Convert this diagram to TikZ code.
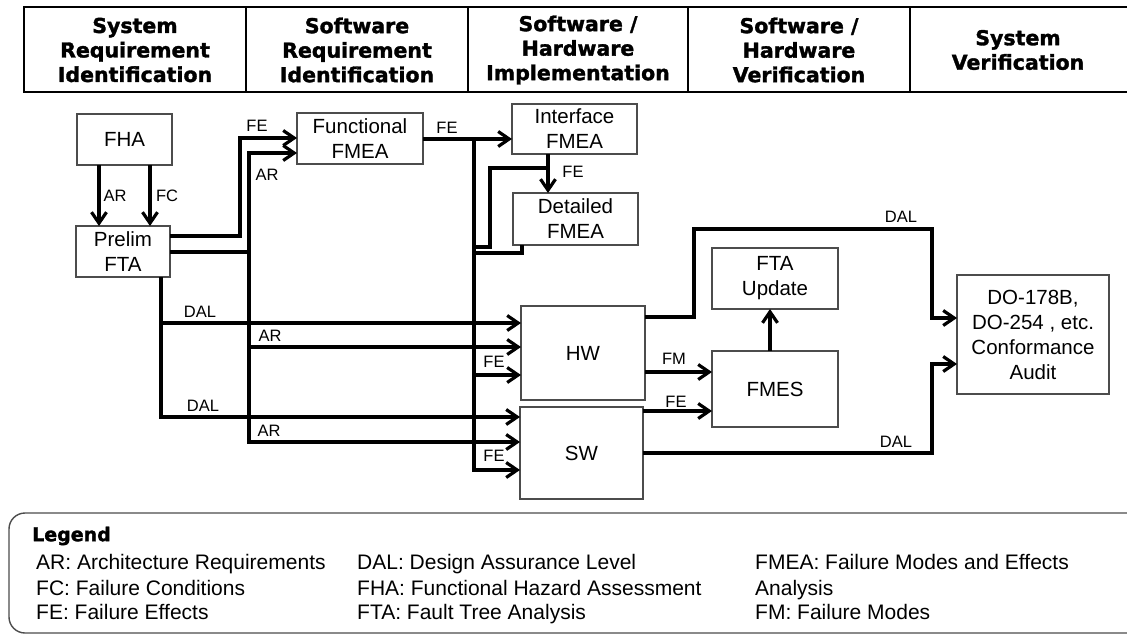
\documentclass[tikz,border=0pt]{standalone}
\usepackage{fontspec}
\setmainfont{Liberation Sans}
\newfontfamily\headfont{DejaVu Sans}[BoldFeatures={FakeBold=1.6}]
\usetikzlibrary{arrows.meta}

\begin{document}
\begin{tikzpicture}[x=1pt,y=-1pt,
  box/.style={draw=black!70, line width=1.4pt, fill=white, inner sep=0pt, outer sep=0pt,
    align=center, font=\fontsize{20.5}{25}\selectfont},
  wire/.style={line width=3.2pt},
  arr/.style={wire, -{Straight Barb[length=11pt,width=15pt]}},
  lbl/.style={inner sep=0pt, font=\fontsize{16.5}{18}\selectfont},
  head/.style={align=center, inner sep=0pt, font=\headfont\bfseries\fontsize{20.5}{24.5}\selectfont},
  legtxt/.style={anchor=base west, inner sep=0pt, font=\fontsize{21}{25}\selectfont}
]
\useasboundingbox (0,0) rectangle (1127,635);
\fill[white] (0,0) rectangle (1127,635);

% ---- phase header ----
\draw[line width=2.5pt] (24,7) rectangle (1140,92);
\foreach \x in {246,468,688,910} \draw[line width=2.5pt] (\x,7) -- (\x,92);
\node[head] (h1) at (135,50)  {System\\Requirement\\Identification};
\node[head] (h2) at (357,50)  {Software\\Requirement\\Identification};
\node[head] (h3) at (578,50)  {Software /\\Hardware\\Implementation};
\node[head] (h4) at (799,50)  {Software /\\Hardware\\Verification};
\node[head] (h5) at (1018,50) {System\\Verification};

% ---- process boxes ----
\node[box, minimum width=95pt,  minimum height=51pt]  (fha)    at (124.5,139.5) {FHA};
\node[box, minimum width=94pt,  minimum height=51pt]  (prelim) at (123,251.5)   {Prelim\\FTA};
\node[box, minimum width=126pt, minimum height=51pt]  (func)   at (360,138.5)   {Functional\\FMEA};
\node[box, minimum width=125pt, minimum height=50pt]  (intf)   at (574.5,129)   {Interface\\FMEA};
\node[box, minimum width=125pt, minimum height=52pt]  (detl)   at (575.5,219)   {Detailed\\FMEA};
\node[box, minimum width=124pt, minimum height=94pt]  (hw)     at (583,353)     {HW};
\node[box, minimum width=123pt, minimum height=92pt]  (sw)     at (581.5,453)   {SW};
\node[box, minimum width=126pt, minimum height=61pt]  (ftau)   at (775,278.5)   {FTA\\Update};
\node[box, minimum width=126pt, minimum height=76pt]  (fmes)   at (775,389)     {FMES};
\node[box, minimum width=152pt, minimum height=119pt] (audit)  at (1033,334.5)  {DO-178B,\\DO-254 , etc.\\Conformance\\Audit};

% ---- FHA to preliminary FTA ----
\draw[arr] (fha.south -| 99,0)  -- (prelim.north -| 99,0);
\draw[arr] (fha.south -| 150,0) -- (prelim.north -| 150,0);
\node[lbl] (lar0) at (115,196) {AR};
\node[lbl] (lfc0) at (167,196) {FC};

% ---- preliminary FTA outputs ----
\draw[arr] (prelim.east |- 0,236) -| (240,138) -- (func.west |- 0,138);
\draw[arr] (prelim.east |- 0,252) -| (249,153) -- (func.west |- 0,153);
\node[lbl] (lfe1) at (257,126) {FE};
\node[lbl] (lar1) at (267,175) {AR};

% architecture requirements bus
\draw[arr] (249,252) |- (hw.west |- 0,347);
\draw[arr] (249,347) |- (sw.west |- 0,442);
\node[lbl] (lar2) at (270,336) {AR};
\node[lbl] (lar3) at (269,431) {AR};

% design assurance level bus
\draw[arr] (prelim.south -| 161,0) |- (hw.west |- 0,323);
\draw[arr] (161,323) |- (sw.west |- 0,417);
\node[lbl] (ldal1) at (200,312) {DAL};
\node[lbl] (ldal2) at (203,406) {DAL};

% ---- failure effects bus ----
\draw[arr] (func.east |- 0,139) -- (intf.west |- 0,139);
\draw[arr] (474,139) |- (hw.west |- 0,375);
\draw[arr] (474,375) |- (sw.west |- 0,470);
\node[lbl] (lfe2) at (447,128) {FE};
\node[lbl] (lfe3) at (494,362) {FE};
\node[lbl] (lfe4) at (494,456) {FE};

\draw[arr] (intf.south -| 548,0) -- (detl.north -| 548,0);
\node[lbl] (lfe5) at (573,172) {FE};
\draw[wire] (548,168) -| (490,247) -- (474,247);
\draw[wire] (detl.south -| 522,0) |- (474,253);

% ---- verification ----
\draw[arr] (hw.east |- 0,317) -| (694,229) -| (932,318) -- (audit.west |- 0,318);
\node[lbl] (ldal3) at (901,217) {DAL};
\draw[arr] (hw.east |- 0,372) -- (fmes.west |- 0,372);
\node[lbl] (lfm) at (674,359) {FM};
\draw[arr] (sw.east |- 0,411) -- (fmes.west |- 0,411);
\node[lbl] (lfe6) at (676,402) {FE};
\draw[arr] (sw.east |- 0,453) -| (932,364) -- (audit.west |- 0,364);
\node[lbl] (ldal4) at (896,442) {DAL};
\draw[arr] (fmes.north -| 770,0) -- (ftau.south -| 770,0);

% ---- legend ----
\draw[draw=black!70, line width=1.4pt, rounded corners=16pt] (9,513) rectangle (1150,633);
\node[anchor=west, inner sep=0pt, font=\headfont\bfseries\fontsize{19}{22}\selectfont] (legt) at (32,536) {Legend};
\node[legtxt] (g1) at (36,569.5)  {AR: Architecture Requirements};
\node[legtxt] (g2) at (36,595.5)  {FC: Failure Conditions};
\node[legtxt] (g3) at (36,619.5)  {FE: Failure Effects};
\node[legtxt] (g4) at (357,569.5) {DAL: Design Assurance Level};
\node[legtxt] (g5) at (357,595.5) {FHA: Functional Hazard Assessment};
\node[legtxt] (g6) at (357,619.5) {FTA: Fault Tree Analysis};
\node[legtxt] (g7) at (755,569.5) {FMEA: Failure Modes and Effects};
\node[legtxt] (g8) at (755,595.5) {Analysis};
\node[legtxt] (g9) at (755,619.5) {FM: Failure Modes};
\end{tikzpicture}
\end{document}
